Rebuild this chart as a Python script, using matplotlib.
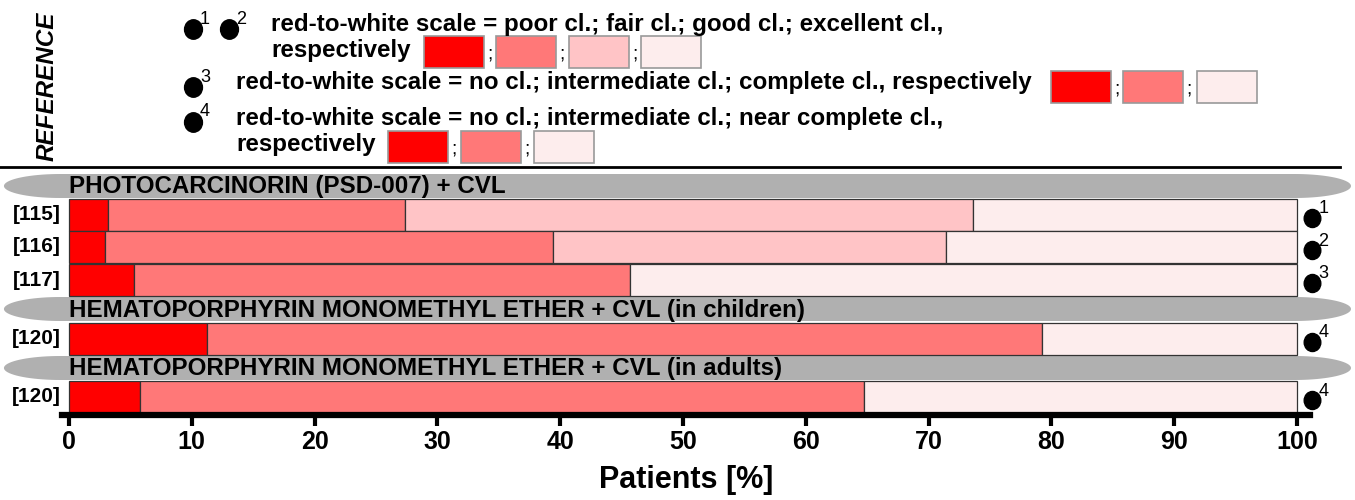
import numpy as np
import matplotlib
matplotlib.use("Agg")
import matplotlib.pyplot as plt
from matplotlib.patches import Rectangle, Polygon
from matplotlib.markers import MarkerStyle
from matplotlib.transforms import Affine2D

# data (percent of patients per clearance grade, red -> white)
refs = ["[115]", "[116]", "[117]", "[120]", "[120]"]
seg_115 = [3.2, 24.2, 46.2, 26.4]
seg_116 = [2.9, 36.5, 32.0, 28.6]
seg_117 = [5.3, 40.4, 54.3]
seg_120c = [11.2, 68.0, 20.8]
seg_120a = [5.8, 58.9, 35.3]
segments = [seg_115, seg_116, seg_117, seg_120c, seg_120a]
marks = ["1", "2", "3", "4", "4"]
groups = ["PHOTOCARCINORIN (PSD-007) + CVL",
          "HEMATOPORPHYRIN MONOMETHYL ETHER + CVL (in children)",
          "HEMATOPORPHYRIN MONOMETHYL ETHER + CVL (in adults)"]
xticks = list(range(0, 101, 10))

RED, PINK, LPINK, WHITE = "#ff0000", "#ff7878", "#ffc4c6", "#fdeded"
col4 = [RED, PINK, LPINK, WHITE]
col3 = [RED, PINK, WHITE]

SANS = ["Liberation Sans", "DejaVu Sans"]
DOT = MarkerStyle("o", transform=Affine2D().scale(0.92, 1.0))

W, H = 1355, 500
fig = plt.figure(figsize=(W / 100, H / 100), dpi=100)
fig.patch.set_facecolor("white")

def fx(x):
    return x / W

def fy(y):
    return 1 - y / H

# axes: x data 0..100 maps to px 69..1297, y in px-like units
ax = fig.add_axes([fx(62), fy(415), fx(1310 - 62), (415 - 170) / H])
ax.set_xlim(-0.57, 101.06)
ax.set_ylim(415, 170)
for s in ["top", "left", "right"]:
    ax.spines[s].set_visible(False)
ax.spines["bottom"].set_linewidth(4.5)
ax.set_yticks([])
ax.set_xticks(xticks)
ax.tick_params(axis="x", length=8, width=3, direction="out", pad=3)
for lab in ax.get_xticklabels():
    lab.set_fontfamily(SANS)
    lab.set_fontweight("bold")
    lab.set_fontsize(18)
ax.set_xlabel("Patients [%]", fontfamily=SANS, fontweight="bold",
              fontsize=22, labelpad=8)

bar_y = [214.5, 247, 280, 338.5, 397]
bar_h = 32
head_y = [186, 309, 368]
head_h = 24

def capsule(yc, h, x0=-5.3, x1=104.4, cap=4.6):
    t = np.linspace(-np.pi / 2, np.pi / 2, 40)
    right = [(x1 - cap + cap * np.cos(a), yc + h / 2 * np.sin(a)) for a in t]
    left = [(x0 + cap - cap * np.cos(a), yc - h / 2 * np.sin(a)) for a in t]
    return Polygon(right + left, closed=True, facecolor="#b0b0b0", edgecolor="none",
                   clip_on=False, zorder=1)

for yc, name in zip(head_y, groups):
    ax.add_patch(capsule(yc, head_h))
    ax.text(0, yc + 1, name, ha="left", va="center", fontfamily=SANS,
            fontweight="bold", fontsize=17.4, zorder=3, clip_on=False)

for yc, segs, ref, m in zip(bar_y, segments, refs, marks):
    cols = col4 if len(segs) == 4 else col3
    left = np.concatenate([[0], np.cumsum(segs)[:-1]])
    ax.barh(yc, segs, left=left, height=bar_h, color=cols, edgecolor="#333333",
            linewidth=0.9, zorder=2)
    ax.text(-0.7, yc, ref, ha="right", va="center", fontfamily=SANS,
            fontweight="bold", fontsize=15, clip_on=False)
    ax.plot([101.2], [yc + 3], marker=DOT, color="black", markersize=13, clip_on=False)
    ax.text(101.75, yc - 6, m, ha="left", va="center", fontfamily=SANS,
            fontsize=13, clip_on=False)

# separator line under the reference key
fig.add_artist(plt.Line2D([fx(0), fx(1340)], [fy(167), fy(167)], color="black", lw=2))

# REFERENCE key
fig.text(fx(47), fy(86), "REFERENCE", rotation=90, ha="center", va="center",
         fontfamily=SANS, fontweight="bold", fontstyle="italic", fontsize=17.5)

def key_dot(x, y, num):
    fig.add_artist(plt.Line2D([fx(x)], [fy(y)], marker=DOT, color="black", markersize=14))
    fig.text(fx(x + 7), fy(y - 10), num, ha="left", va="center", fontfamily=SANS,
             fontsize=13)

def key_text(x, y, s):
    fig.text(fx(x), fy(y), s, ha="left", va="center", fontfamily=SANS,
             fontweight="bold", fontsize=17.4)

def swatches(xs, y0, y1, cols, w=60):
    for i, (x, c) in enumerate(zip(xs, cols)):
        fig.add_artist(Rectangle((fx(x), fy(y1)), fx(w), (y1 - y0) / H, facecolor=c,
                                 edgecolor="#999999", lw=1.2, transform=fig.transFigure))
        if i < len(cols) - 1:
            fig.text(fx(x + w + 6), fy((y0 + y1) / 2 + 2), ";", ha="center", va="center",
                     fontfamily=SANS, fontsize=14)

key_dot(193, 29, "1")
key_dot(229, 29, "2")
key_text(271, 24, "red-to-white scale = poor cl.; fair cl.; good cl.; excellent cl.,")
key_text(271, 51, "respectively")
swatches([424, 496, 569, 641], 36, 68, col4)

key_dot(193, 87, "3")
key_text(236, 83, "red-to-white scale = no cl.; intermediate cl.; complete cl., respectively")
swatches([1051, 1123, 1197], 71, 103, col3)

key_dot(193, 122, "4")
key_text(236, 118, "red-to-white scale = no cl.; intermediate cl.; near complete cl.,")
key_text(236, 145, "respectively")
swatches([388, 461, 534], 131, 163, col3)

fig.savefig("out.png", dpi=100, facecolor="white")
